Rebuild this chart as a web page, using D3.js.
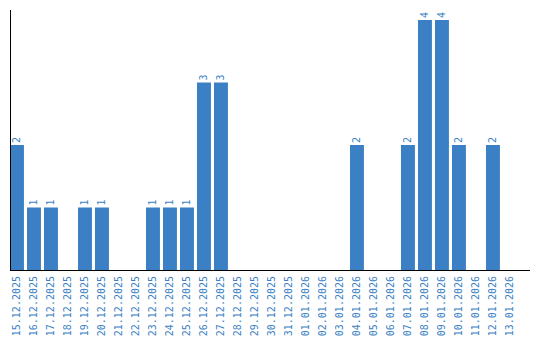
<!DOCTYPE html>
<html>
<head>
<meta charset="utf-8">
<script src="https://cdn.jsdelivr.net/npm/d3@7"></script>
<style>
  body { margin: 0; background: #fff; }
  text { font-family: "DejaVu Sans Mono", monospace; font-size: 10px; }
</style>
</head>
<body>
<div id="chart"></div>
<script>
var dates = ["15.12.2025","16.12.2025","17.12.2025","18.12.2025","19.12.2025","20.12.2025",
    "21.12.2025","22.12.2025","23.12.2025","24.12.2025","25.12.2025","26.12.2025","27.12.2025",
    "28.12.2025","29.12.2025","30.12.2025","31.12.2025","01.01.2026","02.01.2026","03.01.2026",
    "04.01.2026","05.01.2026","06.01.2026","07.01.2026","08.01.2026","09.01.2026","10.01.2026",
    "11.01.2026","12.01.2026","13.01.2026"];
var counts = [2,1,1,0,1,1,0,0,1,1,1,3,3,0,0,0,0,0,0,0,2,0,0,2,4,4,2,0,2,0];

function buildChart(){
    var width = 540, height = 340;
    var left = 10, right = 530, top = 10, bottom = 270;
    var blue = "#3b7fc4";

    var data = dates.map(function(d, i){ return {date: d, value: counts[i]} });

    var x = d3.scaleBand()
        .domain(dates)
        .range([left, right])
        .paddingInner(0.18)
        .paddingOuter(0.385)
        .align(0)

    var y = d3.scaleLinear()
        .domain([0, 4.16])
        .range([bottom, top])

    var svg = d3.select("#chart")
        .append("svg")
        .attr("width", width)
        .attr("height", height)

    svg.selectAll(".bar")
        .data(data.filter(function(d){ return d.value > 0 }))
        .enter()
        .append("rect")
        .attr("class", "bar")
        .attr("x", function(d){ return x(d.date) })
        .attr("y", function(d){ return y(d.value) })
        .attr("width", x.bandwidth())
        .attr("height", function(d){ return y(0) - y(d.value) })
        .attr("fill", blue)

    svg.selectAll(".val")
        .data(data.filter(function(d){ return d.value > 0 }))
        .enter()
        .append("text")
        .attr("class", "val")
        .attr("transform", function(d){
            return "translate(" + (x(d.date) + x.bandwidth() / 2) + "," + (y(d.value) - 2) + ") rotate(-90)"
        })
        .attr("dy", "0.35em")
        .attr("fill", blue)
        .text(function(d){ return d.value })

    // x axis
    var xAxis = svg.append("g")
        .attr("transform", "translate(0," + bottom + ")")
        .call(d3.axisBottom(x).tickSize(0).tickPadding(0))
    xAxis.select(".domain").remove()
    xAxis.selectAll("text")
        .attr("fill", blue)
        .attr("font-family", "DejaVu Sans Mono")
        .attr("font-size", 10)
        .attr("text-anchor", "end")
        .attr("x", -6)
        .attr("y", 0)
        .attr("dy", "0.35em")
        .attr("transform", "rotate(-90)")

    svg.append("line")
        .attr("x1", left).attr("x2", right)
        .attr("y1", bottom + 0.5).attr("y2", bottom + 0.5)
        .attr("stroke", "#000")

    svg.append("line")
        .attr("x1", left + 0.5).attr("x2", left + 0.5)
        .attr("y1", top).attr("y2", bottom)
        .attr("stroke", "#000")
}

buildChart();
</script>
</body>
</html>
